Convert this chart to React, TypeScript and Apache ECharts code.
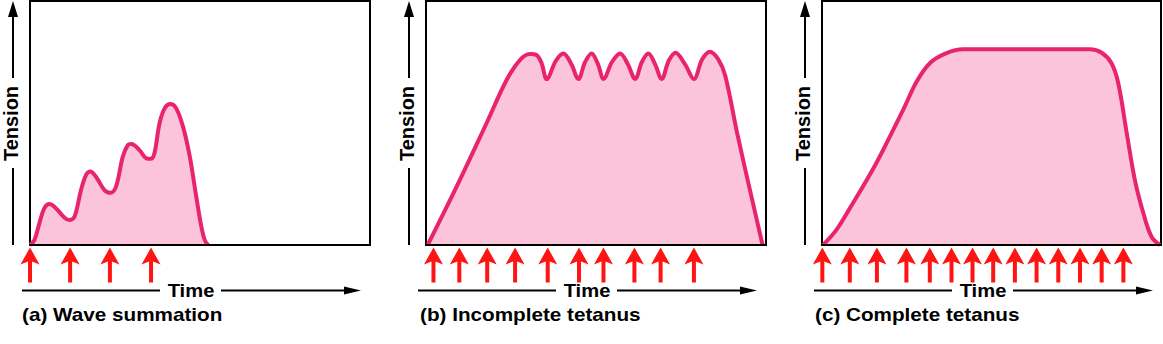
import React, { useEffect, useRef } from "react";
import * as echarts from "echarts";

// ---- data (time in % of panel width, tension in % of panel height) ----
const waveSummation: [number, number][] = [
  [0, 0], [1.3, 2.0], [2.75, 8.9], [4.2, 15.0], [5.7, 16.8], [7.7, 15.0], [10.1, 11.3],
  [11.6, 10.2], [13.1, 11.6], [15.0, 22.5], [16.5, 28.7], [17.7, 30.1], [19.4, 28.0],
  [21.9, 22.5], [23.7, 21.4], [25.3, 23.9], [27.3, 36.2], [28.8, 41.0], [29.8, 41.4],
  [32.2, 38.9], [34.2, 35.5], [35.5, 35.3], [36.6, 37.6], [38.1, 49.9], [39.6, 56.0],
  [41.3, 57.8], [43.0, 56.0], [45.0, 48.5], [47.0, 36.2], [48.9, 19.8], [50.4, 7.5],
  [51.4, 2.0], [52.4, 0],
];
const incompleteTetanus: [number, number][] = [
  [0.5, 0], [9.0, 23.9], [17.8, 49.9], [23.7, 67.6], [27.6, 75.8], [30.6, 78.3],
  [32.5, 77.9], [34.0, 74.5], [35.5, 68.0], [38.2, 75.5], [40.4, 78.5], [42.8, 74.0],
  [44.8, 68.0], [46.8, 75.0], [48.7, 78.5], [50.6, 74.0], [52.2, 68.0], [54.7, 75.0],
  [57.1, 78.5], [59.4, 74.0], [61.5, 68.0], [63.5, 75.0], [65.4, 78.5], [67.4, 74.0],
  [69.3, 68.0], [71.4, 75.5], [73.4, 78.8], [76.2, 74.0], [78.8, 68.0], [81.2, 76.0],
  [83.5, 79.2], [86.0, 76.0], [88.0, 69.5], [91.5, 46.0], [95.2, 23.0], [99.0, 0],
];
const completeTetanus: [number, number][] = [
  [0.3, 0], [4.2, 6.1], [8.2, 15.0], [16.0, 33.5], [23.9, 55.3], [27.9, 66.9],
  [31.8, 74.5], [36.7, 78.6], [41.6, 80.2], [60.0, 80.2], [79.0, 80.2], [82.5, 78.8],
  [85.4, 74.5], [87.4, 66.3], [89.9, 45.8], [92.3, 26.6], [94.8, 13.0], [97.2, 3.4],
  [99.7, 0],
];
const waveStimuli = [0, 11.8, 23.5, 35.6];
const incompleteStimuli = [2.2, 9.8, 18.0, 26.2, 35.8, 45.0, 52.2, 61.3, 69.0, 78.8];
const completeStimuli = [0.1, 8.2, 16.2, 24.9, 31.8, 38.2, 44.4, 50.5, 56.9, 63.3, 69.7, 76.1, 82.5, 88.9];
const captions = ["(a) Wave summation", "(b) Incomplete tetanus", "(c) Complete tetanus"];
const yAxisLabel = "Tension";
const xAxisLabel = "Time";

const LINE = "#e8246e";
const FILL = "#fcc4d8";
const RED = "#ff1414";
const FONT = '"Liberation Sans", Arial, Helvetica, sans-serif';
const ARROW = "path://M9.5,0 L19,17 L11.5,14 L11.5,35 L7.5,35 L7.5,14 L0,17 Z";

export default function App() {
  const ref = useRef<HTMLDivElement>(null);
  useEffect(() => {
    if (!ref.current) return;
    const chart = echarts.init(ref.current, undefined, { renderer: "svg" });
    const panels = [
      { left: 30, width: 340, data: waveSummation, stim: waveStimuli, cap: captions[0], capDx: -8 },
      { left: 426, width: 340, data: incompleteTetanus, stim: incompleteStimuli, cap: captions[1], capDx: -6 },
      { left: 822, width: 339, data: completeTetanus, stim: completeStimuli, cap: captions[2], capDx: -7 },
    ];
    const grid: any[] = [];
    const xAxis: any[] = [];
    const yAxis: any[] = [];
    const series: any[] = [];
    const graphic: any[] = [];
    panels.forEach((p, i) => {
      grid.push({ left: p.left, top: 1, width: p.width, height: 244, show: true, borderColor: "#000", borderWidth: 2, backgroundColor: "transparent" });
      grid.push({ left: p.left, top: 247, width: p.width, height: 36, show: false });
      xAxis.push({
        type: "value", gridIndex: 2 * i, min: 0, max: 100, z: 10,
        axisLine: { show: true, onZero: false, lineStyle: { color: "#000", width: 2 } },
        axisTick: { show: false }, axisLabel: { show: false }, splitLine: { show: false },
      });
      xAxis.push({ type: "value", gridIndex: 2 * i + 1, min: 0, max: 100, show: false });
      yAxis.push({ type: "value", gridIndex: 2 * i, min: 0, max: 100, show: false });
      yAxis.push({ type: "value", gridIndex: 2 * i + 1, min: 0, max: 1, show: false });
      series.push({
        type: "line", xAxisIndex: 2 * i, yAxisIndex: 2 * i, data: p.data, smooth: 0.35,
        showSymbol: false, clip: false, lineStyle: { color: LINE, width: 4 },
        areaStyle: { color: FILL, opacity: 1 }, z: 2,
      });
      series.push({
        type: "scatter", xAxisIndex: 2 * i + 1, yAxisIndex: 2 * i + 1,
        data: p.stim.map((t) => [t, 0.5]), symbol: ARROW, symbolSize: [19, 35],
        itemStyle: { color: RED, opacity: 1 },
      });
      const L = p.left;
      const ax = L - 17;
      const blk = { stroke: "#000", lineWidth: 2 };
      graphic.push(
        { type: "line", shape: { x1: ax, y1: 245, x2: ax, y2: 168 }, style: blk },
        { type: "line", shape: { x1: ax, y1: 78, x2: ax, y2: 14 }, style: blk },
        { type: "polygon", shape: { points: [[ax - 5, 17], [ax, 1], [ax + 5, 17]] }, style: { fill: "#000" } },
        {
          type: "text", x: ax - 2, y: 123.5, rotation: Math.PI / 2,
          style: { text: yAxisLabel, fill: "#000", fontSize: 20, fontWeight: "bold", fontFamily: FONT, align: "center", verticalAlign: "middle" },
        },
        { type: "line", shape: { x1: L - 8, y1: 290.5, x2: L + 130, y2: 290.5 }, style: blk },
        { type: "line", shape: { x1: L + 191, y1: 290.5, x2: L + 316, y2: 290.5 }, style: blk },
        { type: "polygon", shape: { points: [[L + 314, 286.5], [L + 331, 290.5], [L + 314, 294.5]] }, style: { fill: "#000" } },
        {
          type: "text", x: L + 161, y: 290.5, scaleX: 1.12,
          style: { text: xAxisLabel, fill: "#000", fontSize: 18, fontWeight: "bold", fontFamily: FONT, align: "center", verticalAlign: "middle" },
        },
        {
          type: "text", x: L + p.capDx, y: 314.5, scaleX: 1.15,
          style: { text: p.cap, fill: "#000", fontSize: 18, fontWeight: "bold", fontFamily: FONT, align: "left", verticalAlign: "middle" },
        },
      );
    });
    chart.setOption({
      animation: false,
      backgroundColor: "#fff",
      grid, xAxis, yAxis, series, graphic,
    });
    return () => chart.dispose();
  }, []);
  return (
    <div
      ref={ref}
      style={{ position: "absolute", left: 0, top: 0, width: 1163, height: 344, background: "#fff" }}
    />
  );
}
